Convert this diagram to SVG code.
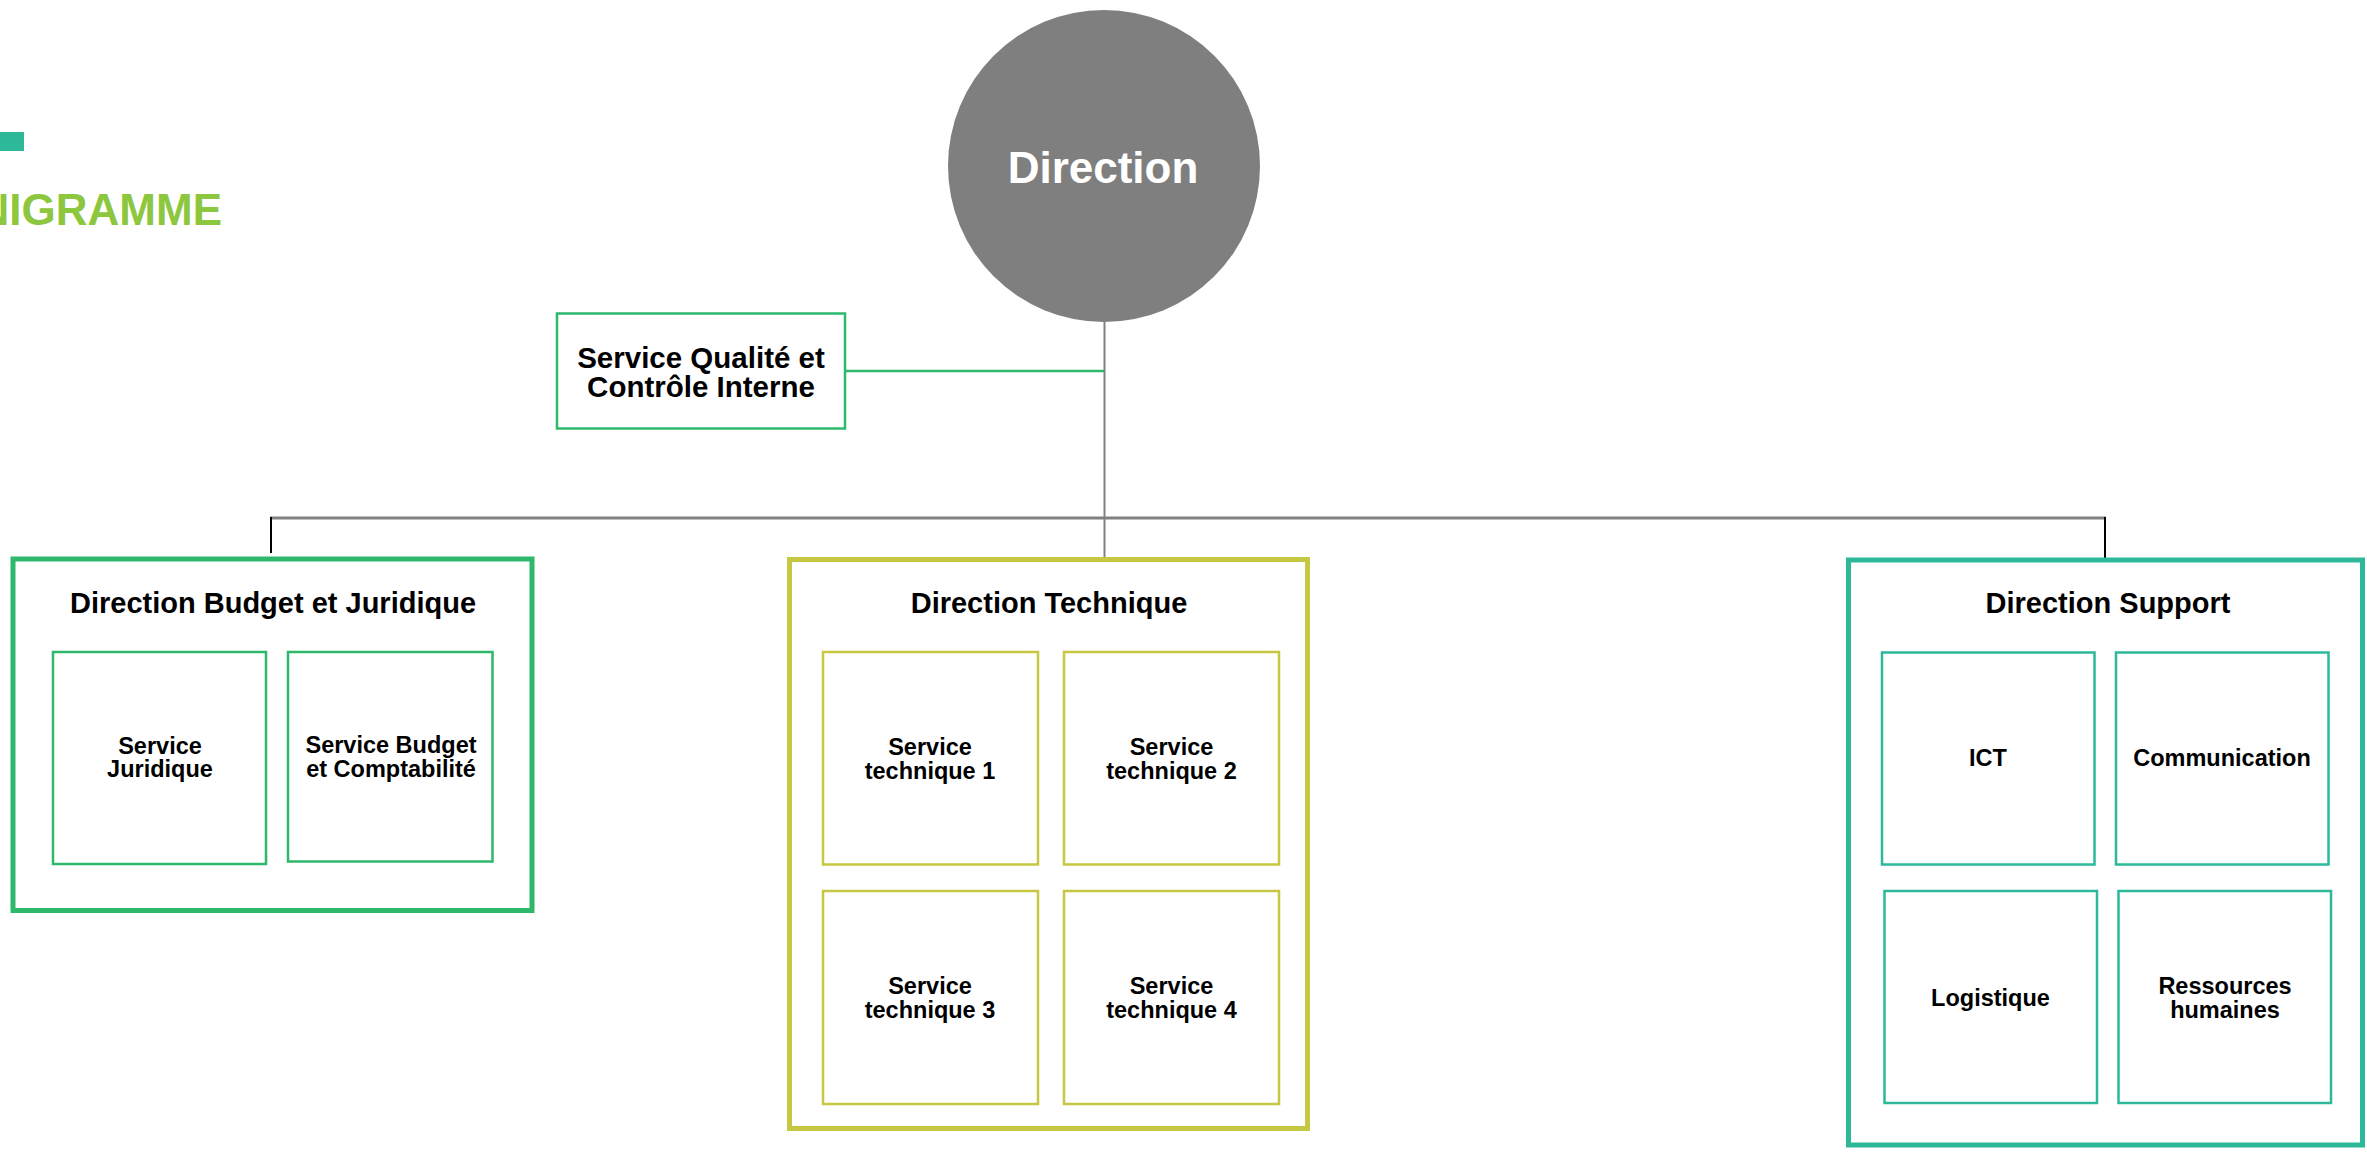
<svg xmlns="http://www.w3.org/2000/svg" width="2367" height="1152" viewBox="0 0 2367 1152">
<style>
text{font-family:"Liberation Sans",Arial,sans-serif;font-weight:bold;fill:#000;text-anchor:middle}
.t{font-size:29px}
.s{font-size:23.5px}
.g{fill:none;stroke:#2db86c}
.y{fill:none;stroke:#c5c840}
.c{fill:none;stroke:#2db89a}
.outer{stroke-width:5}
.inner{stroke-width:2.5}
</style>
<rect width="2367" height="1152" fill="#fff"/>
<g id="title">
<rect x="0" y="132" width="24" height="19" fill="#2db89a"/>
<text x="222" y="225" style="font-size:44px;fill:#8dc63f;text-anchor:end">ORGANIGRAMME</text>
</g>
<g id="connectors">
<line x1="1104.5" y1="322" x2="1104.5" y2="558" stroke="#808080" stroke-width="2"/>
<line x1="845" y1="371" x2="1104.5" y2="371" stroke="#2db86c" stroke-width="2.5"/>
<line x1="270" y1="518" x2="2106" y2="518" stroke="#808080" stroke-width="3"/>
<line x1="271" y1="517" x2="271" y2="553" stroke="#000" stroke-width="2"/>
<line x1="2105" y1="517" x2="2105" y2="558" stroke="#000" stroke-width="2"/>
</g>
<g id="direction">
<circle cx="1104" cy="166" r="156" fill="#7f7f7f"/>
<text x="1103" y="183" style="font-size:44px;fill:#fff">Direction</text>
</g>
<g id="qci">
<rect class="g inner" x="557" y="313.5" width="288" height="115"/>
<text x="701" y="368" style="font-size:29.5px">Service Qualité et</text>
<text x="701" y="397" style="font-size:29.5px">Contrôle Interne</text>
</g>
<g id="dir-budget">
<rect class="g outer" x="13" y="559" width="519" height="351.5"/>
<text class="t" x="273" y="613">Direction Budget et Juridique</text>
</g>
<g id="svc-juridique">
<rect class="g inner" x="53" y="652" width="213" height="212"/>
<text class="s" x="160" y="754">Service</text>
<text class="s" x="160" y="777">Juridique</text>
</g>
<g id="svc-budget">
<rect class="g inner" x="288" y="652" width="204.5" height="209.5"/>
<text class="s" x="391" y="753">Service Budget</text>
<text class="s" x="391" y="777">et Comptabilité</text>
</g>
<g id="dir-technique">
<rect class="y outer" x="789.5" y="559.5" width="518" height="569"/>
<text class="t" x="1049" y="613">Direction Technique</text>
</g>
<g id="svc-tech-1">
<rect class="y inner" x="823" y="652" width="215" height="212.5"/>
<text class="s" x="930" y="755">Service</text>
<text class="s" x="930" y="779">technique 1</text>
</g>
<g id="svc-tech-2">
<rect class="y inner" x="1064" y="652" width="215" height="212.5"/>
<text class="s" x="1171.5" y="755">Service</text>
<text class="s" x="1171.5" y="779">technique 2</text>
</g>
<g id="svc-tech-3">
<rect class="y inner" x="823" y="891" width="215" height="213"/>
<text class="s" x="930" y="994">Service</text>
<text class="s" x="930" y="1018">technique 3</text>
</g>
<g id="svc-tech-4">
<rect class="y inner" x="1064" y="891" width="215" height="213"/>
<text class="s" x="1171.5" y="994">Service</text>
<text class="s" x="1171.5" y="1018">technique 4</text>
</g>
<g id="dir-support">
<rect class="c outer" x="1848.5" y="560" width="514" height="585"/>
<text class="t" x="2108" y="613">Direction Support</text>
</g>
<g id="ict">
<rect class="c inner" x="1882" y="652.5" width="212.5" height="212"/>
<text class="s" x="1988" y="766">ICT</text>
</g>
<g id="communication">
<rect class="c inner" x="2116" y="652.5" width="212.5" height="212"/>
<text class="s" x="2222" y="766">Communication</text>
</g>
<g id="logistique">
<rect class="c inner" x="1884.5" y="891" width="212.5" height="212"/>
<text class="s" x="1990.5" y="1006">Logistique</text>
</g>
<g id="rh">
<rect class="c inner" x="2118.5" y="891" width="212.5" height="212"/>
<text class="s" x="2225" y="994">Ressources</text>
<text class="s" x="2225" y="1018">humaines</text>
</g>
</svg>
